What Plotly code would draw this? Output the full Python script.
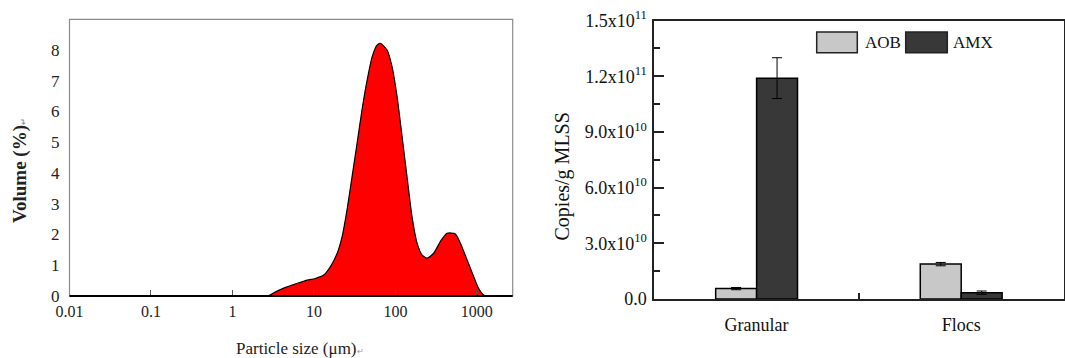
import plotly.graph_objects as go

# ---------------- data ----------------
# Left panel: particle size distribution
size_um = [2.4, 2.9, 3.4, 4.5, 5.9, 7.9, 10.4, 13.2, 15.9, 19.3,
           22.2, 25.5, 29.4, 33.9, 38.9, 45, 51.8, 59.6, 65.5, 79,
           91, 105, 121, 139, 160, 185, 213, 245, 295, 356,
           430, 545, 630, 760, 915, 1050, 1210, 1330]
volume_pct = [0.0, 0.03, 0.14, 0.28, 0.39, 0.50, 0.57, 0.68, 0.95, 1.39,
              1.93, 2.8, 3.88, 4.97, 6.05, 7.02, 7.78, 8.16, 8.22, 8.0,
              7.46, 6.48, 5.18, 3.88, 2.58, 1.71, 1.33, 1.23, 1.39, 1.77,
              2.04, 2.02, 1.71, 1.17, 0.63, 0.25, 0.03, 0.0]
size_ticks = [0.01, 0.1, 1, 10, 100, 1000]
size_tick_text = ["0.01", "0.1", "1", "10", "100", "1000"]
vol_ticks = [0, 1, 2, 3, 4, 5, 6, 7, 8]

# Right panel: gene copies
groups = ["Granular", "Flocs"]
series_names = ["AOB", "AMX"]
aob = [5.6e9, 1.88e10]
aob_err = [6e8, 9e8]
amx = [1.19e11, 3.4e9]
amx_err = [1.1e10, 9e8]
copy_ticks = [0, 3e10, 6e10, 9e10, 1.2e11, 1.5e11]
copy_tick_text = ["0.0", "3.0x10<sup>10</sup>", "6.0x10<sup>10</sup>",
                  "9.0x10<sup>10</sup>", "1.2x10<sup>11</sup>", "1.5x10<sup>11</sup>"]
copy_minor = [1.5e10, 4.5e10, 7.5e10, 1.05e11, 1.35e11]

# ---------------- style ----------------
W, H = 1065, 358
SERIF = "Liberation Serif, Times New Roman, serif"
AOB_COLOR = "#c8c8c8"
AMX_COLOR = "#383838"

def px_x(p):
    return p / W

def px_y(p):
    return 1 - p / H

fig = go.Figure()

# left: filled distribution
fig.add_trace(go.Scatter(
    x=size_um, y=volume_pct, mode="lines",
    line=dict(color="black", width=1.2, shape="spline", smoothing=0.6),
    fill="tozeroy", fillcolor="#ff0000",
    xaxis="x", yaxis="y", showlegend=False, hoverinfo="skip"))

# right: bars
fig.add_trace(go.Bar(
    x=groups, y=aob, name=series_names[0],
    marker=dict(color=AOB_COLOR, line=dict(color="black", width=1.5)),
    error_y=dict(type="data", array=aob_err, color="black", thickness=1, width=5),
    xaxis="x2", yaxis="y2", showlegend=False))
fig.add_trace(go.Bar(
    x=groups, y=amx, name=series_names[1],
    marker=dict(color=AMX_COLOR, line=dict(color="black", width=1.5)),
    error_y=dict(type="data", array=amx_err, color="black", thickness=1, width=5),
    xaxis="x2", yaxis="y2", showlegend=False))

left_dom_x = [px_x(69.5), px_x(512.7)]
left_dom_y = [px_y(296), px_y(19.3)]
right_dom_x = [px_x(654.3), px_x(1063.5)]
right_dom_y = [px_y(299), px_y(20.6)]

fig.update_layout(
    template="none",
    width=W, height=H, autosize=False,
    margin=dict(l=0, r=0, t=0, b=0, pad=0),
    paper_bgcolor="white", plot_bgcolor="white",
    font=dict(family=SERIF, color="black"),
    showlegend=False,
    barmode="group", bargap=0.6, bargroupgap=0,
    xaxis=dict(
        domain=left_dom_x, anchor="y", type="log", range=[-2, 3.44],
        automargin=False,
        tickmode="array", tickvals=size_ticks, ticktext=size_tick_text,
        ticks="inside", ticklen=6, tickcolor="#555", tickwidth=1,
        showgrid=False, zeroline=False, showline=False,
        tickfont=dict(size=16, family=SERIF, color="#222"),
        ticklabelstandoff=4),
    yaxis=dict(
        domain=left_dom_y, anchor="x", range=[0, 9],
        automargin=False,
        tickmode="array", tickvals=vol_ticks,
        ticks="", showgrid=False, zeroline=False, showline=False,
        tickfont=dict(size=17, family=SERIF, color="#222"),
        ticklabelstandoff=9),
    xaxis2=dict(
        domain=right_dom_x, anchor="y2", type="category", range=[-0.5, 1.5],
        automargin=False,
        ticks="inside", tickson="boundaries", ticklen=6, tickwidth=1.5,
        tickcolor="#222",
        showline=True, linecolor="#222", linewidth=1.8, mirror=True,
        showgrid=False, zeroline=False,
        tickfont=dict(size=18, family=SERIF, color="#111"),
        ticklabelstandoff=8),
    yaxis2=dict(
        domain=right_dom_y, anchor="x2", range=[0, 1.5e11],
        automargin=False,
        tickmode="array", tickvals=copy_ticks, ticktext=copy_tick_text,
        ticks="inside", ticklen=10, tickwidth=1.5, tickcolor="#222",
        minor=dict(tickmode="array", tickvals=copy_minor, ticks="inside",
                   ticklen=6, tickwidth=1.5, tickcolor="#222", showgrid=False),
        showline=True, linecolor="#222", linewidth=1.8, mirror=True,
        showgrid=False, zeroline=False,
        tickfont=dict(size=18, family=SERIF, color="#111"),
        ticklabelstandoff=2),
)

# left frame: gray box, black bottom axis line
fig.add_shape(type="rect", xref="x domain", yref="y domain",
              x0=0, x1=1, y0=0, y1=1, line=dict(color="#8a8a8a", width=1.2))
fig.add_shape(type="line", xref="x domain", yref="y domain",
              x0=0, x1=1, y0=0, y1=0, line=dict(color="black", width=2))

# axis titles
fig.add_annotation(
    text="Volume (%)<span style='font-size:8px;color:#999'>↵</span>",
    xref="paper", yref="paper", x=px_x(20), y=px_y(171),
    xanchor="center", yanchor="middle",
    textangle=-90, showarrow=False,
    font=dict(size=19, family=SERIF, color="#222", weight="bold"))
fig.add_annotation(
    text="Particle size (μm)<span style='font-size:8px;color:#999'>↵</span>",
    xref="paper", yref="paper", x=px_x(300), y=px_y(348),
    xanchor="center", yanchor="middle",
    showarrow=False, font=dict(size=17, family=SERIF, color="#222"))
fig.add_annotation(
    text="Copies/g MLSS",
    xref="paper", yref="paper", x=px_x(562), y=px_y(176.5),
    xanchor="center", yanchor="middle",
    textangle=-90, showarrow=False,
    font=dict(size=20, family=SERIF, color="#111"))

# custom legend (patches + labels)
legend_items = [(series_names[0], AOB_COLOR, 816.7, 857.3, 862.5),
                (series_names[1], AMX_COLOR, 905.7, 947.3, 951.0)]
for name, col, x0, x1, tx in legend_items:
    fig.add_shape(type="rect", xref="paper", yref="paper",
                  x0=px_x(x0), x1=px_x(x1), y0=px_y(52.7), y1=px_y(32),
                  fillcolor=col, line=dict(color="#222", width=1.5))
    fig.add_annotation(text=name, xref="paper", yref="paper",
                       x=px_x(tx), y=px_y(42.5), xanchor="left", yanchor="middle",
                       showarrow=False, font=dict(size=17, family=SERIF, color="#111"))

fig.write_html(
    "out.html",
    config={"displayModeBar": False},
    post_script="document.body.style.margin='0px';document.body.style.overflow='hidden';")
